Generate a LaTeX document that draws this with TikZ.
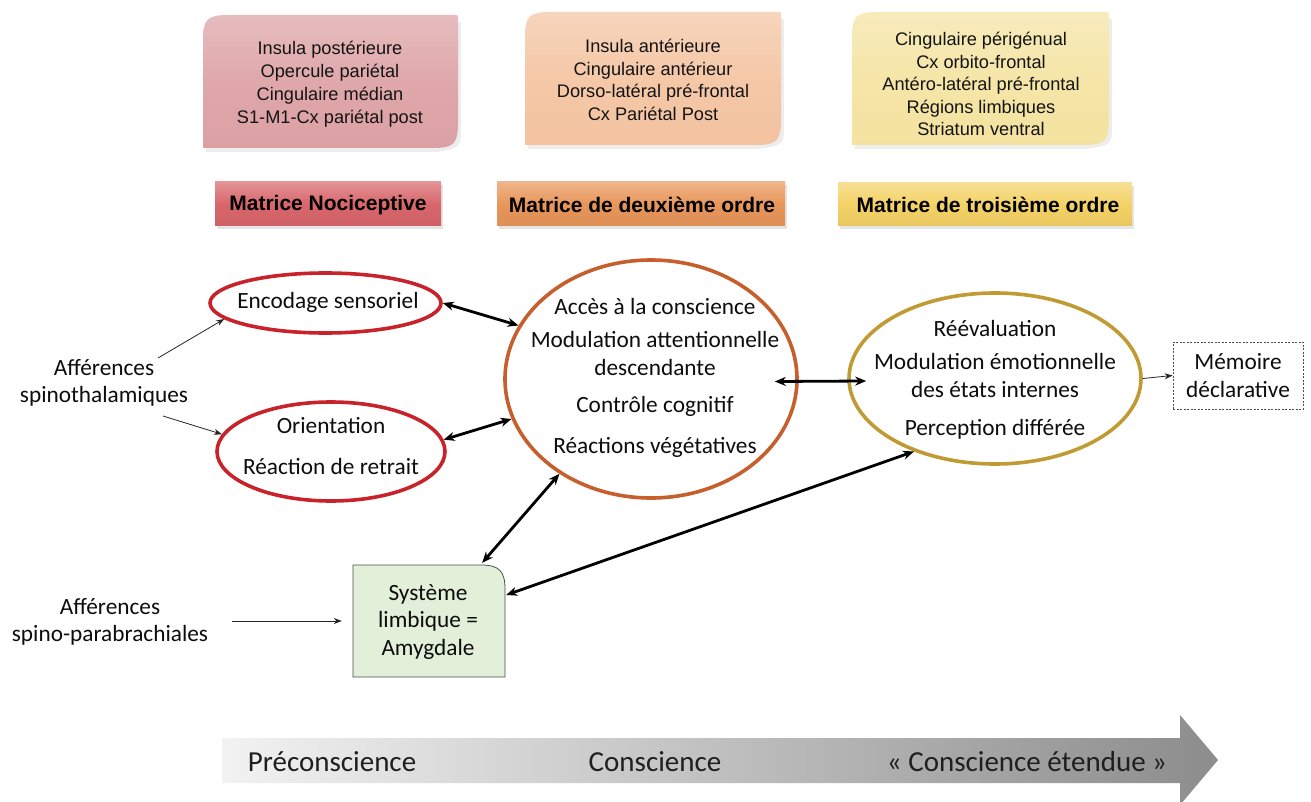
\documentclass[tikz,border=0pt]{standalone}
\usepackage{fontspec}
\setmainfont{Carlito}
\newfontfamily\arialf{Liberation Sans}
\usetikzlibrary{shapes.geometric,arrows.meta,calc}
\definecolor{pinkc}{HTML}{DCA0A3}
\definecolor{peachc}{HTML}{F4C3A0}
\definecolor{yelc}{HTML}{F4E3A0}
\definecolor{mredc}{HTML}{D8666B}
\definecolor{morc}{HTML}{E8965A}
\definecolor{myelc}{HTML}{F4D266}
\definecolor{redc}{HTML}{C8232B}
\definecolor{orc}{HTML}{C65F2C}
\definecolor{goldc}{HTML}{C09A33}
\definecolor{limbc}{HTML}{E2EFD9}
\newcommand{\dtopshape}[5]{%
  \fill[black,opacity=0.07] (#1+3,#4+4) -- (#1+3,#2+30) -- (#3+3,#2+7) -- (#3+3,#4-22) .. controls (#3+3,#4) .. (#3-23,#4+4) -- cycle;
  \shade[top color=#5!70!white, bottom color=#5, middle color=#5!92!white]
    (#1,#4) -- (#1,#2+26) .. controls (#1,#2+4) and (#1+4,#2) .. (#1+26,#2)
    -- (#3-3,#2) .. controls (#3,#2) .. (#3,#2+3)
    -- (#3,#4-26) .. controls (#3,#4-4) and (#3-4,#4) .. (#3-26,#4) -- cycle;}
\newcommand{\dmatshape}[5]{%
  \fill[black,opacity=0.10] (#1+2,#2+3) rectangle (#3+2,#4+3);
  \shade[top color=#5!70!white, bottom color=#5!95!black, middle color=#5] (#1,#2) rectangle (#3,#4);}
\begin{document}
\begin{tikzpicture}[x=1pt,y=-1pt,
  ell/.style={ellipse, draw, line width=3.6pt, inner sep=0pt},
  lbl/.style={align=center, inner sep=0pt, text=black!95, font=\fontsize{23.3}{27.5}\selectfont},
  toptxt/.style={align=center, inner sep=0pt, text=black!92, font=\arialf\fontsize{18.2}{22.5}\selectfont},
  mattxt/.style={inner sep=0pt, text=black, font=\arialf\bfseries\fontsize{21}{24}\selectfont},
  dbl/.style={{Stealth[length=11pt,width=9pt]}-{Stealth[length=11pt,width=9pt]}, line width=2.8pt, draw=black},
  onearr/.style={-{Stealth[length=8pt,width=6pt]}, line width=0.8pt, draw=black!85},
  arrtxt/.style={inner sep=0pt, text=black!88, font=\fontsize{29}{34}\selectfont}]

\useasboundingbox (0,0) rectangle (1311,802);
\fill[white] (0,0) rectangle (1311,802);

% top boxes
\dtopshape{203}{15}{458}{148}{pinkc}
\dtopshape{525}{12}{781}{145}{peachc}
\dtopshape{852}{12}{1109}{145}{yelc}
\node[toptxt, font=\arialf\fontsize{18.2}{23}\selectfont] (t1) at (330,84) {Insula postérieure\\Opercule pariétal\\Cingulaire médian\\S1-M1-Cx pariétal post};
\node[toptxt] (t2) at (653,80) {Insula antérieure\\Cingulaire antérieur\\Dorso-latéral pré-frontal\\Cx Pariétal Post};
\node[toptxt] (t3) at (981,84) {Cingulaire périgénual\\Cx orbito-frontal\\Antéro-latéral pré-frontal\\Régions limbiques\\Striatum ventral};

% matrix labels
\dmatshape{215}{182}{441}{226}{mredc}
\dmatshape{497}{182}{785}{226}{morc}
\dmatshape{838}{183}{1132}{226}{myelc}
\node[mattxt] (m1) at (328,205) {Matrice Nociceptive};
\node[mattxt] (m2) at (642,205) {Matrice de deuxième ordre};
\node[mattxt] (m3) at (988,205) {Matrice de troisième ordre};

% ellipses
\node[ell, draw=redc, minimum width=231pt, minimum height=60pt] (enc) at (325.5,303) {};
\node[ell, draw=redc, minimum width=228pt, minimum height=99pt] (ori) at (331,451.5) {};
\node[ell, draw=orc, minimum width=292pt, minimum height=238pt] (big) at (651,379) {};
\node[ell, draw=goldc, minimum width=292pt, minimum height=171pt] (rgt) at (995,378.5) {};

\node[lbl] (encT) at (328,302) {Encodage sensoriel};
\node[lbl] (oriT) at (331,446) {Orientation\\[13.5pt]Réaction de retrait};
\node[lbl] (bigT) at (655,378) {Accès à la conscience\\[5.5pt]Modulation attentionnelle\\[0.5pt]descendante\\[9.5pt]Contrôle cognitif\\[13.5pt]Réactions végétatives};
\node[lbl] (rgtT) at (995,380) {Réévaluation\\[5.5pt]Modulation émotionnelle\\des états internes\\[10.5pt]Perception différée};

% memory box
\node[lbl, draw=black!70, dash pattern=on 2pt off 1.5pt, line width=0.8pt, minimum width=130pt, minimum height=67pt] (mem) at (1238,375.5) {Mémoire\\déclarative};

% limbic box
\fill[limbc, draw=black!70, line width=0.8pt] (353,677) -- (353,565) -- (481,565) .. controls (499,565) and (505,571) .. (505,589) -- (505,677) -- cycle;
\node[lbl, minimum width=152pt, minimum height=112pt] (limb) at (428,622) {Système\\limbique =\\Amygdale};

% afferences
\node[lbl] (aff1) at (104,383) {Afférences\\spinothalamiques};
\node[lbl] (aff2) at (110,622) {Afférences\\spino-parabrachiales};

% connectors
\draw[onearr] ($(aff1)+(54,-25)$) -- (enc.189);
\draw[onearr] ($(aff1)+(59,33)$) -- (ori.171);
\draw[onearr] ($(aff2)+(122,-1)$) -- ($(limb.west)+(-10,-1)$);
\draw[onearr] (rgt.east) -- (mem.west);

\draw[dbl] (enc.east) -- (big.158);
\draw[dbl] (ori.6) -- (big.196);
\draw[dbl] (big.226) -- ($(limb.north east)+(-22,-3)$);
\draw[dbl] ($(big.east)+(-24,2.5)$) -- ($(rgt.west)+(19,2.5)$);
\draw[dbl] (rgt.222) -- ($(limb.east)+(2,-27)$);

% bottom arrow
\shade[left color=black!5, right color=black!45] (222,738) -- (1180,738) -- (1180,715) -- (1218,760) -- (1180,805) -- (1180,783) -- (222,783) -- cycle;
\node[arrtxt] (p1) at (332,762) {Préconscience};
\node[arrtxt] (p2) at (655,762) {Conscience};
\node[arrtxt] (p3) at (1027,762) {« Conscience étendue »};
\end{tikzpicture}
\end{document}
